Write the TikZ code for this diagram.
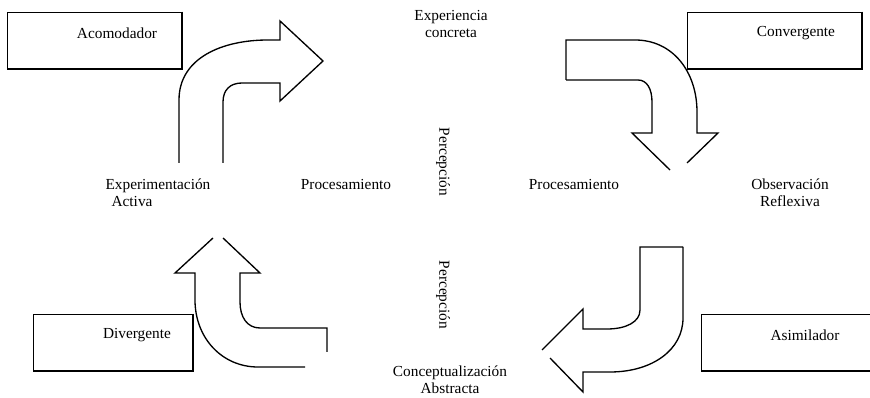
\documentclass[tikz,border=0pt]{standalone}
\usepackage{fontspec}
\setmainfont{Liberation Serif}
\tikzset{
  rolbox/.style={draw, line width=0.6pt, minimum height=42.75pt, inner sep=0pt},
  flecha/.style={line width=1pt, line join=miter},
  etiq/.style={font=\fontsize{11.5}{12.8}\selectfont, inner sep=1pt, align=center},
}

\begin{document}
\begin{tikzpicture}
  [x=0.75pt, y=-0.75pt]
  \useasboundingbox (0,0) rectangle (870,398);
  \clip (0,0) rectangle (870,398);

  % cuadros de estilos
  \node[rolbox, minimum width=131.25pt] (acomBox) at (94.5,40.5) {};
  \node[rolbox, minimum width=131.25pt] (convBox) at (774.5,40.5) {};
  \node[rolbox, minimum width=120pt] (divBox) at (113,342.5) {};
  \node[rolbox, minimum width=131.25pt] (asimBox) at (788.5,342.5) {};
  \foreach \b in {acomBox,convBox,divBox,asimBox}
  \draw[line width=1.5pt] (\b.north east) -- (\b.south east) -- (\b.south west);

  \node[etiq] (acom) at (117,33) {Acomodador};
  \node[etiq] (conv) at (796,33) {Convergente};
  \node[etiq] (div) at (137,335) {Divergente};
  \node[etiq] (asim) at (805,335) {Asimilador};

  % etapas del ciclo
  \node[etiq] (expConc) at (451,24) {Experiencia\\concreta};
  \node[etiq, align=left, anchor=west] (expAct) at (104,193) {Experimentación\\\hspace*{4.5pt}Activa};
  \node[etiq] (obsRef) at (790,193) {Observación\\Reflexiva};
  \node[etiq] (concAbs) at (450,380) {Conceptualización\\Abstracta};
  \node[etiq] (procIzq) at (346,185) {Procesamiento};
  \node[etiq] (procDer) at (574,185) {Procesamiento};
  \node[etiq, rotate=-90] (percArr) at (443,162) {Percepción};
  \node[etiq, rotate=-90] (percAb) at (443,295) {Percepción};

  % flecha arriba izquierda
  \draw[flecha] (179,163) -- (179,100) .. controls (179,58) and (222,40) .. (268,40)
    -- (280,40) -- (280,21) -- (323,61) -- (280,101) -- (280,83) -- (242,83)
    .. controls (230,83) and (223,90) .. (223,102) -- (223,163);

  % flecha arriba derecha
  \draw[flecha] (566,80) -- (566,40) -- (635,40) .. controls (673,40) and (697,72) .. (697,112)
    -- (697,133) -- (718,133) -- (687,163);
  \draw[flecha] (566,80) -- (638,80) .. controls (647,80) and (652,89) .. (652,102)
    -- (652,133) -- (632,133) -- (670,170);

  % flecha abajo derecha
  \draw[flecha] (683,247) -- (640,247) -- (640,310) .. controls (640,322) and (626,329) .. (607,329)
    -- (583,329) -- (583,309) -- (542,350);
  \draw[flecha] (683,247) -- (683,318) .. controls (683,350) and (652,372) .. (610,372)
    -- (583,372) -- (583,392) -- (550,358);

  % flecha abajo izquierda
  \draw[flecha] (305,367) -- (258,367) .. controls (222,367) and (195,338) .. (195,300)
    -- (195,273) -- (175,273) -- (213,238);
  \draw[flecha] (327,352) -- (327,328) -- (260,328) .. controls (247,328) and (240,317) .. (240,302)
    -- (240,273) -- (260,273) -- (223,238);

\end{tikzpicture}
\end{document}
